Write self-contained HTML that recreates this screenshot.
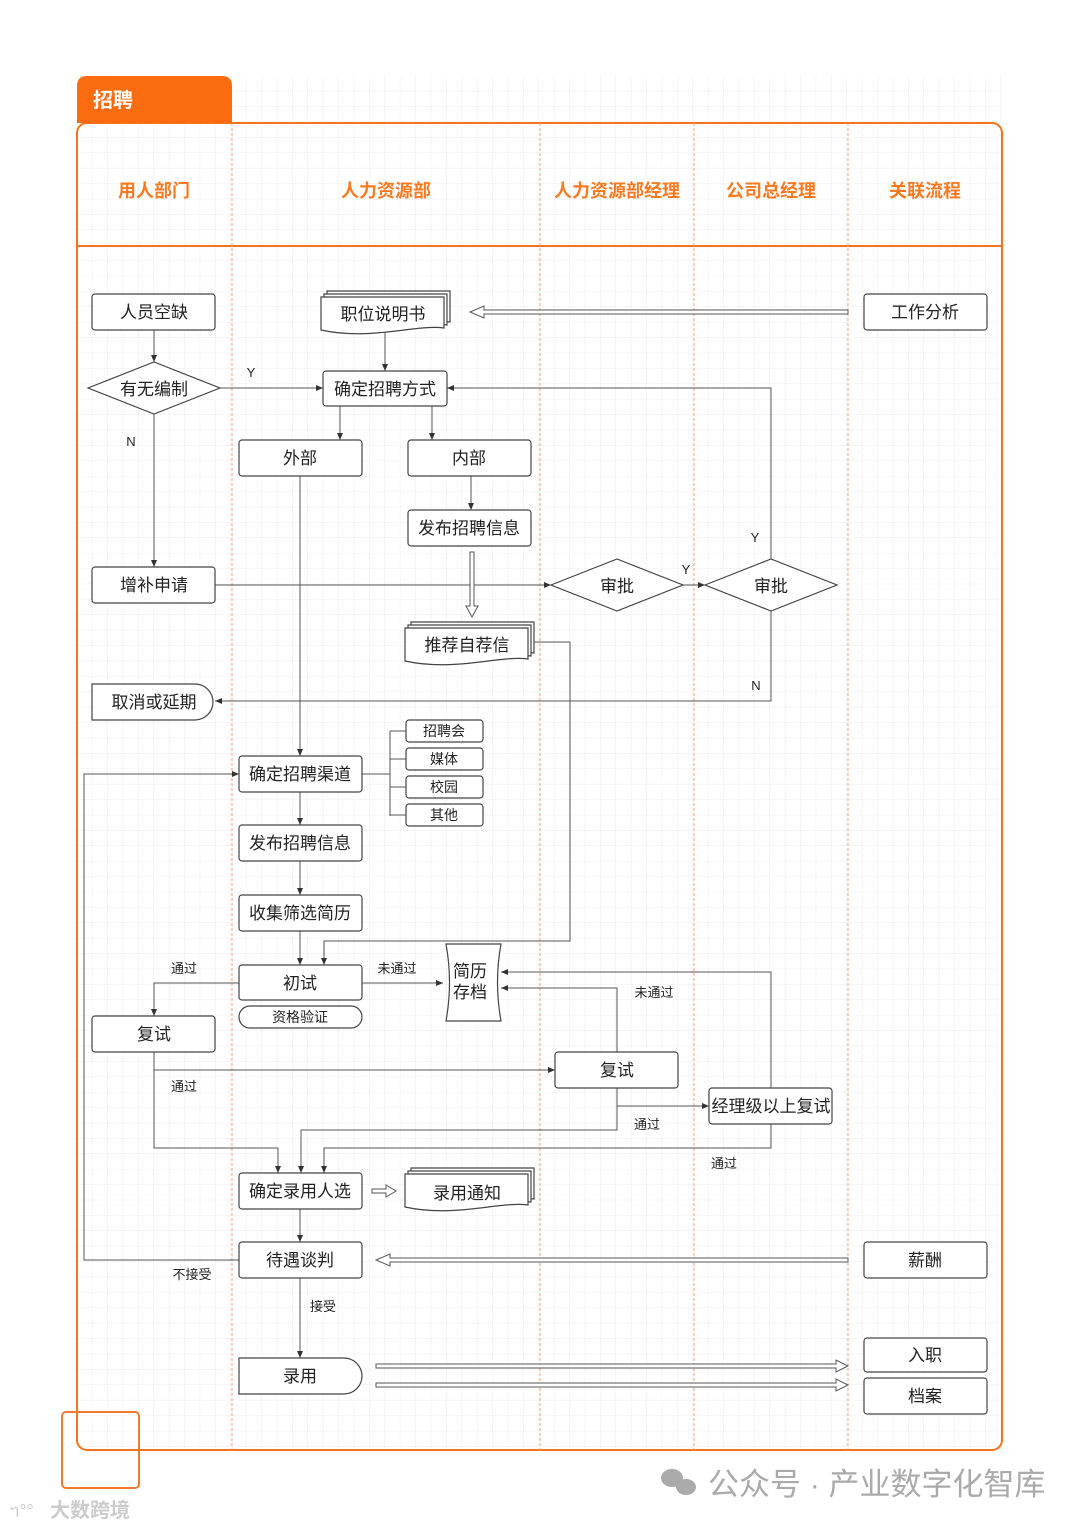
<!DOCTYPE html>
<html><head><meta charset="utf-8"><style>
html,body{margin:0;padding:0;background:#fff}
svg{display:block}
text{font-family:"Liberation Sans","Noto Sans CJK SC",sans-serif;fill:#222}
</style></head><body>
<svg width="1080" height="1527" viewBox="0 0 1080 1527" xmlns="http://www.w3.org/2000/svg">
<defs>
<pattern id="g" x="77" y="76" width="15.4" height="15.4" patternUnits="userSpaceOnUse">
<path d="M15.4 0V15.4H0" fill="none" stroke="#ececef" stroke-width="1"/>
</pattern>
<path id="doc" d="M0 0H123V31C95 27 50 44 0 33Z"/>
<marker id="a" markerWidth="8" markerHeight="8" refX="7" refY="4" orient="auto" markerUnits="userSpaceOnUse"><path d="M0 1L7 4L0 7Z" fill="#333"/></marker>
</defs>
<rect x="77" y="76" width="925" height="1374" fill="url(#g)"/>
<rect x="77" y="123" width="925" height="1327" rx="10" fill="none" stroke="#f5731c" stroke-width="2"/>
<path d="M77 123V86Q77 76 87 76H222Q232 76 232 86V123Z" fill="#fb6c10"/>
<text x="93" y="107" font-size="20" font-weight="bold" style="fill:#fff">招聘</text>
<line x1="77" y1="246" x2="1002" y2="246" stroke="#f5731c" stroke-width="2"/>
<g stroke="#f5a070" stroke-width="1" stroke-dasharray="3,2">
<line x1="232" y1="123" x2="232" y2="1450"/><line x1="540" y1="123" x2="540" y2="1450"/>
<line x1="694" y1="123" x2="694" y2="1450"/><line x1="848" y1="123" x2="848" y2="1450"/>
</g>
<g font-size="18" font-weight="bold" text-anchor="middle">
<text x="154" y="197" style="fill:#fb7a20">用人部门</text><text x="386" y="197" style="fill:#fb7a20">人力资源部</text>
<text x="617" y="197" style="fill:#fb7a20">人力资源部经理</text><text x="771" y="197" style="fill:#fb7a20">公司总经理</text>
<text x="925" y="197" style="fill:#fb7a20">关联流程</text>
</g>
<rect x="62" y="1412" width="77" height="76" rx="4" fill="none" stroke="#f07a30" stroke-width="2"/>

<g fill="none" stroke="#555" stroke-width="1" marker-end="url(#a)">
<path d="M154 330V362"/>
<path d="M220 388H323"/>
<path d="M385 333V371"/>
<path d="M340 406V440"/><path d="M432 406V440"/>
<path d="M471 476V510"/>
<path d="M154 414V567"/>
<path d="M215 585H551"/>
<path d="M683 585H705"/>
<path d="M771 559V388H447"/>
<path d="M771 611V701H215"/>
<path d="M300 476V756"/>
<path d="M300 792V825"/><path d="M300 861V895"/><path d="M300 931V965"/>
<path d="M534 642H570V941H324V965"/>
<path d="M362 983H443"/>
<path d="M239 983H154V1016"/>
<path d="M154 1052V1148H278V1173"/>
<path d="M154 1070H555"/>
<path d="M617 1052V988H501"/>
<path d="M617 1088V1130H301V1173"/>
<path d="M617 1106H709"/>
<path d="M771 1088V972H501"/>
<path d="M771 1124V1148H324V1173"/>
<path d="M300 1209V1242"/>
<path d="M239 1260H84V774H239"/>
<path d="M300 1278V1358"/>
</g>
<g fill="none" stroke="#555" stroke-width="1">
<path d="M362 774H390M390 731V816M390 731H406M390 759H406M390 787H406M390 815H406"/>
</g>
<g fill="#fff" stroke="#555" stroke-width="1">
<path d="M848 310H484V306L470 312L484 318V314H848Z"/>
<path d="M848 1258H390V1254L376 1260L390 1266V1262H848Z"/>
<path d="M376 1364H836V1360L848 1366L836 1372V1368H376Z"/>
<path d="M376 1383H836V1379L848 1385L836 1391V1387H376Z"/>
<path d="M372 1189H386V1185L396 1191L386 1197V1193H372Z"/>
<path d="M470 552H474V606H478L472 617L466 606H470Z"/>
</g>

<g fill="#fff" stroke="#444" stroke-width="1.2">
<rect x="92" y="294" width="123" height="36" rx="3"/>
<path d="M88 388L154 362L220 388L154 414Z"/>
<rect x="864" y="294" width="123" height="36" rx="3"/>
<rect x="323" y="371" width="124" height="35" rx="3"/>
<rect x="239" y="440" width="123" height="36" rx="3"/>
<rect x="408" y="440" width="123" height="36" rx="3"/>
<rect x="408" y="510" width="123" height="36" rx="3"/>
<rect x="92" y="567" width="123" height="36" rx="3"/>
<path d="M551 585L617 559L683 585L617 611Z"/>
<path d="M705 585L771 559L837 585L771 611Z"/>
<path d="M92 684H195A18 18 0 0 1 195 720H92Z"/>
<rect x="406" y="720" width="77" height="22" rx="3"/>
<rect x="406" y="748" width="77" height="22" rx="3"/>
<rect x="406" y="776" width="77" height="22" rx="3"/>
<rect x="406" y="804" width="77" height="22" rx="3"/>
<rect x="239" y="756" width="123" height="36" rx="3"/>
<rect x="239" y="825" width="123" height="36" rx="3"/>
<rect x="239" y="895" width="123" height="36" rx="3"/>
<rect x="239" y="965" width="123" height="35" rx="3"/>
<rect x="239" y="1006" width="123" height="22" rx="11"/>
<path d="M446 944H501Q494 982 501 1021H446Q453 982 446 944Z"/>
<rect x="92" y="1016" width="123" height="36" rx="3"/>
<rect x="555" y="1052" width="123" height="36" rx="3"/>
<rect x="709" y="1088" width="123" height="36" rx="3"/>
<rect x="239" y="1173" width="123" height="36" rx="3"/>
<rect x="239" y="1242" width="123" height="36" rx="3"/>
<rect x="864" y="1242" width="123" height="36" rx="3"/>
<path d="M239 1358H344A18 18 0 0 1 344 1394H239Z"/>
<rect x="864" y="1338" width="123" height="34" rx="3"/>
<rect x="864" y="1378" width="123" height="36" rx="3"/>
<g transform="translate(327,291)"><use href="#doc"/></g><g transform="translate(324,294)"><use href="#doc"/></g><g transform="translate(321,297)"><use href="#doc"/></g>
<g transform="translate(411,622)"><use href="#doc"/></g><g transform="translate(408,625)"><use href="#doc"/></g><g transform="translate(405,628)"><use href="#doc"/></g>
<g transform="translate(411,1168)"><use href="#doc"/></g><g transform="translate(408,1171)"><use href="#doc"/></g><g transform="translate(405,1174)"><use href="#doc"/></g>
</g>

<g font-size="17" text-anchor="middle">
<text x="154" y="318">人员空缺</text>
<text x="154" y="395">有无编制</text>
<text x="383" y="320">职位说明书</text>
<text x="925" y="318">工作分析</text>
<text x="385" y="395">确定招聘方式</text>
<text x="300" y="464">外部</text>
<text x="469" y="464">内部</text>
<text x="469" y="534">发布招聘信息</text>
<text x="154" y="591">增补申请</text>
<text x="617" y="592">审批</text>
<text x="771" y="592">审批</text>
<text x="467" y="651">推荐自荐信</text>
<text x="154" y="708">取消或延期</text>
<text x="300" y="780">确定招聘渠道</text>
<text x="300" y="849">发布招聘信息</text>
<text x="300" y="919">收集筛选简历</text>
<text x="300" y="989">初试</text>
<text x="470" y="977">简历</text>
<text x="470" y="998">存档</text>
<text x="154" y="1040">复试</text>
<text x="617" y="1076">复试</text>
<text x="771" y="1112">经理级以上复试</text>
<text x="300" y="1197">确定录用人选</text>
<text x="467" y="1199">录用通知</text>
<text x="300" y="1266">待遇谈判</text>
<text x="925" y="1266">薪酬</text>
<text x="300" y="1382">录用</text>
<text x="925" y="1361">入职</text>
<text x="925" y="1402">档案</text>
</g>
<g font-size="14" text-anchor="middle">
<text x="444" y="736">招聘会</text><text x="444" y="764">媒体</text>
<text x="444" y="792">校园</text><text x="444" y="820">其他</text>
<text x="300" y="1022">资格验证</text>
</g>
<g font-size="13" text-anchor="middle">
<text x="251" y="377">Y</text><text x="131" y="446">N</text>
<text x="686" y="574">Y</text><text x="755" y="542">Y</text><text x="756" y="690">N</text>
<text x="397" y="973">未通过</text><text x="184" y="973">通过</text>
<text x="654" y="997">未通过</text><text x="184" y="1091">通过</text>
<text x="647" y="1129">通过</text><text x="724" y="1168">通过</text>
<text x="192" y="1279">不接受</text><text x="323" y="1311">接受</text>
</g>
<g>
<ellipse cx="672" cy="1478" rx="11" ry="9" fill="#aaa"/><ellipse cx="686" cy="1487" rx="10" ry="8" fill="#aaa"/>
<text x="708" y="1495" font-size="31" style="fill:#aaa">公众号 · 产业数字化智库</text>
<text x="50" y="1517" font-size="20" font-weight="bold" style="fill:#ccc">大数跨境</text>
<text x="10" y="1517" font-size="18" style="fill:#ccc">ᥐ°°</text>
</g>
</svg>
</body></html>
